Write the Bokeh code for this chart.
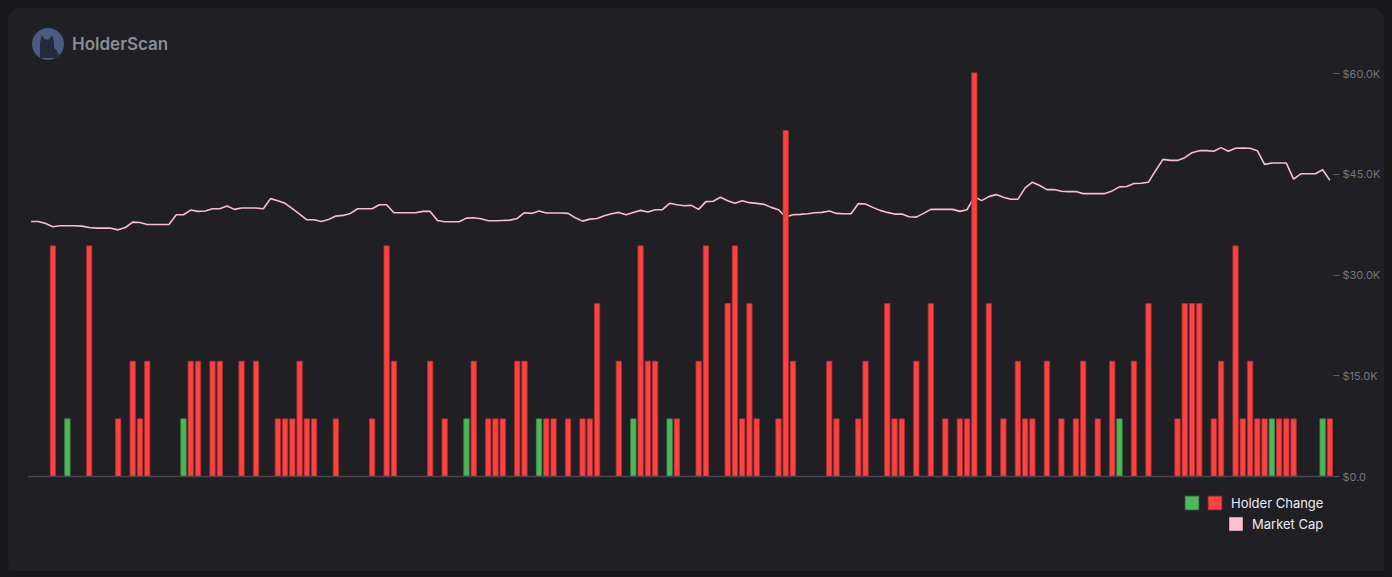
from bokeh.plotting import figure
from bokeh.models import (Range1d, FixedTicker, CustomJSTickFormatter, Legend,
                          LegendItem, Div, Span)
from bokeh.layouts import column
from bokeh.embed import file_html
from bokeh.resources import INLINE

# ---------------- data ----------------
# one slot per time step (180 steps)
market_cap_k = [
    38.0, 38.0, 37.7, 37.2, 37.35, 37.35, 37.35, 37.3, 37.1, 37.0, 37.0, 37.0, 36.75, 37.1, 37.9, 37.85, 37.55, 37.55, 37.55, 37.55,
    39.0, 39.0, 39.7, 39.5, 39.55, 39.9, 39.9, 40.3, 39.8, 40.0, 40.0, 40.0, 39.9, 41.4, 41.1, 40.7, 39.9, 39.1, 38.25, 38.25,
    38.0, 38.3, 38.8, 38.9, 39.2, 39.9, 39.9, 39.9, 40.5, 40.5, 39.3, 39.3, 39.3, 39.3, 39.5, 39.5, 38.15, 37.95, 37.95, 37.95,
    38.5, 38.55, 38.4, 38.1, 38.1, 38.15, 38.2, 38.45, 39.3, 39.2, 39.55, 39.25, 39.25, 39.25, 39.2, 38.55, 38.05, 38.35, 38.45, 38.85,
    39.15, 39.35, 39.0, 39.35, 39.65, 39.4, 39.75, 39.75, 40.7, 40.5, 40.35, 40.4, 39.8, 40.95, 41.0, 41.6, 41.1, 40.7, 41.1, 40.8,
    40.7, 40.55, 40.1, 39.75, 38.65, 39.0, 39.05, 39.15, 39.3, 39.35, 39.55, 39.2, 39.15, 39.15, 40.65, 40.6, 40.1, 39.65, 39.35, 39.1,
    39.1, 38.7, 38.65, 39.2, 39.8, 39.8, 39.8, 39.8, 39.5, 39.75, 41.7, 41.1, 41.7, 42.0, 41.6, 41.3, 41.3, 43.0, 43.85, 43.35,
    42.75, 42.75, 42.5, 42.45, 42.45, 42.15, 42.15, 42.15, 42.15, 42.55, 43.15, 43.2, 43.65, 43.7, 43.85, 45.6, 47.25, 47.1, 47.1, 47.5,
    48.25, 48.55, 48.55, 48.45, 49.0, 48.45, 48.9, 48.95, 48.9, 48.55, 46.5, 46.7, 46.7, 46.7, 44.3, 45.1, 45.1, 45.1, 45.7, 44.15,
]

holder_change = [
    0, 0, 0, -4, 0, 1, 0, 0, -4, 0, 0, 0, -1, 0, -2, -1, -2, 0, 0, 0,
    0, 1, -2, -2, 0, -2, -2, 0, 0, -2, 0, -2, 0, 0, -1, -1, -1, -2, -1, -1,
    0, 0, -1, 0, 0, 0, 0, -1, 0, -4, -2, 0, 0, 0, 0, -2, 0, -1, 0, 0,
    1, -2, 0, -1, -1, -1, 0, -2, -2, 0, 1, -1, -1, 0, -1, 0, -1, -1, -3, 0,
    0, -2, 0, 1, -4, -2, -2, 0, 1, -1, 0, 0, -2, -4, 0, 0, -3, -4, -1, -3,
    -1, 0, 0, -1, -6, -2, 0, 0, 0, 0, -2, -1, 0, 0, -1, -2, 0, 0, -3, -1,
    -1, 0, -2, 0, -3, 0, -1, 0, -1, -1, -7, 0, -3, 0, -1, 0, -2, -1, -1, 0,
    -2, 0, -1, 0, -1, -2, 0, -1, 0, -2, 1, 0, -2, 0, -3, 0, 0, 0, -1, -3,
    -3, -3, 0, -1, -2, 0, -4, -1, -2, -1, -1, 1, -1, -1, -1, 0, 0, 0, 1, -1,
]

y_ticks = [0, 15000, 30000, 45000, 60000]

# ---------------- build ----------------
steps = list(range(len(market_cap_k)))
mcap = [v * 1000 for v in market_cap_k]

gx = [i for i, v in zip(steps, holder_change) if v > 0]
gh = [v for v in holder_change if v > 0]
rx = [i for i, v in zip(steps, holder_change) if v < 0]
rh = [-v for v in holder_change if v < 0]

BG = "#1f1f24"

p = figure(width=1376, height=511, output_backend="svg", toolbar_location=None,
           x_range=Range1d(-0.5, 179.5), y_range=Range1d(-10578, 61088),
           x_axis_location=None, y_axis_location="right",
           background_fill_color=BG, border_fill_color=BG,
           outline_line_color=None,
           min_border_left=19, min_border_right=51, min_border_top=6, min_border_bottom=24)
p.extra_y_ranges = {"holders": Range1d(-1.231, 7.11)}
p.grid.visible = False

# right axis: market cap
ya = p.yaxis[0]
ya.ticker = FixedTicker(ticks=y_ticks)
ya.formatter = CustomJSTickFormatter(code="""
    if (tick == 0) { return "$0.0"; }
    return "$" + (tick / 1000).toFixed(1) + "K";
""")
ya.axis_line_color = None
ya.major_tick_line_color = "#5a5a62"
ya.major_tick_out = 6
ya.major_tick_in = 0
ya.minor_tick_line_color = None
ya.major_label_standoff = 3
ya.major_label_text_color = "#75757c"
ya.major_label_text_font = "Inter"
ya.major_label_text_font_size = "11px"

# baseline
p.add_layout(Span(location=0, dimension="width", line_color="#46464e", line_width=1.5))

line_r = p.line(steps, mcap, line_color="#f8bfcf", line_width=1.6)

red_r = p.vbar(x=rx, top=rh, bottom=0, width=0.74, y_range_name="holders",
               fill_color="#ff4141", line_color="#a83232", line_width=0.8)
green_r = p.vbar(x=gx, top=gh, bottom=0, width=0.74, y_range_name="holders",
                 fill_color="#4db85a", line_color="#3a8a44", line_width=0.8)
# zero-height proxy so that the Market Cap legend entry shows a pink square
pink_r = p.vbar(x=steps[:1], top=[0], bottom=[0], width=0.74,
                fill_color="#ffc2d4", line_color=None)

legend_style = dict(background_fill_alpha=0, border_line_alpha=0,
                    label_text_color="#ececf0", label_text_font="Inter",
                    label_text_font_size="13px", glyph_width=17, glyph_height=17,
                    label_standoff=8, spacing=0, padding=0, margin=0,
                    orientation="horizontal")

leg0 = Legend(items=[LegendItem(label="", renderers=[green_r])],
              location=(1156, 36), **legend_style)
leg1 = Legend(items=[LegendItem(label="Holder Change", renderers=[red_r])],
              location=(1179, 36), **legend_style)
leg2 = Legend(items=[LegendItem(label="Market Cap", renderers=[pink_r])],
              location=(1200, 15), **legend_style)
p.add_layout(leg0)
p.add_layout(leg1)
p.add_layout(leg2)

header = Div(width=1376, height=52, margin=(0, 0, 0, 0), text="""
<div style="position:relative;width:1376px;height:52px;">
  <svg style="position:absolute;left:24px;top:20px" width="32" height="32" viewBox="0 0 32 32">
    <circle cx="16" cy="16" r="16" fill="#4a5a82"/>
    <path d="M8 30 L8 15 L9.5 7 L13 11.5 L17 11.5 L20.5 7 L22 15 L22 20 Q27 23 27 30 Z" fill="#262b3c"/>
  </svg>
  <span style="position:absolute;left:64px;top:25px;font-family:Inter, sans-serif;font-weight:600;
               font-size:17px;line-height:22px;color:#8c8c92;">HolderScan</span>
</div>
""")

layout = column(header, p, styles={"background-color": BG, "border-radius": "12px"})

html = file_html(layout, INLINE)
html = html.replace("</head>",
                    "<style>html, body { margin: 0 !important; background-color: #18181b !important; }"
                    " body { margin: 8px !important; }</style></head>", 1)
open("out.html", "w").write(html)
